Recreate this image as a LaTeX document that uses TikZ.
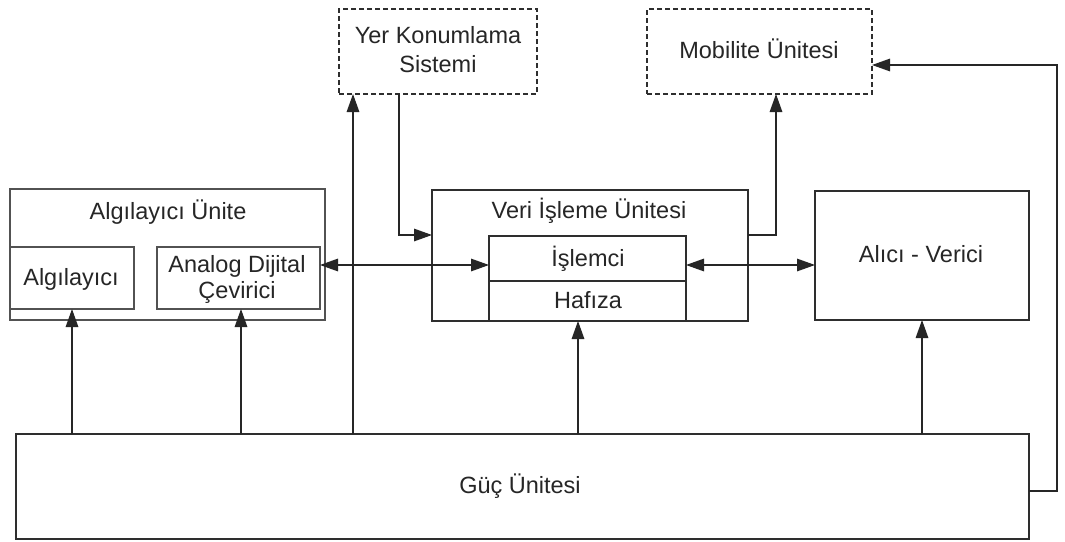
\documentclass[tikz,border=0pt]{standalone}
\usepackage{fontspec}
\setmainfont{Liberation Sans}
\usetikzlibrary{arrows.meta}
\begin{document}
\begin{tikzpicture}[x=1pt,y=-1pt,
  box/.style={draw=black!82, line width=1.5pt, fill=none, inner sep=0pt, outer sep=0pt, anchor=north west},
  gbox/.style={box, draw=black!68, line width=1.8pt},
  dbox/.style={box, dash pattern=on 5pt off 3pt, line width=1.4pt},
  lbl/.style={anchor=base, inner sep=0pt, font=\fontsize{23.5}{28}\selectfont, text=black!85, align=center},
  conn/.style={draw=black!85, line width=1.4pt},
  tip/.style={Triangle[length=18pt,width=12.5pt]},
  arr/.style={conn, -{Triangle[length=18pt,width=12.5pt]}},
  darr/.style={conn, {Triangle[length=18pt,width=12.5pt]}-{Triangle[length=18pt,width=12.5pt]}}]
\useasboundingbox (0,0) rectangle (1065,541);
\fill[white] (0,0) rectangle (1065,541);

% sensing unit with its two parts
\node[gbox, minimum width=315pt, minimum height=131pt] (algu) at (10,189) {};
\node[gbox, minimum width=124pt, minimum height=62pt] (alg) at (10,247) {};
\node[gbox, minimum width=163pt, minimum height=62pt] (adc) at (157,247) {};
\node[lbl] (algut) at (168,219) {Algılayıcı Ünite};
\node[lbl] (algt) at (71,285) {Algılayıcı};
\node[lbl, font=\fontsize{23.5}{26}\selectfont] (adct) at (237,298) {Analog Dijital\\Çevirici};

% optional units
\node[dbox, minimum width=198pt, minimum height=85pt] (yer) at (339,9) {};
\node[lbl, font=\fontsize{23.5}{29}\selectfont] (yert) at (438,72) {Yer Konumlama\\Sistemi};
\node[dbox, minimum width=225pt, minimum height=85pt] (mob) at (647,9) {};
\node[lbl] (mobt) at (759,58) {Mobilite Ünitesi};

% processing unit
\node[box, minimum width=316pt, minimum height=131pt] (veri) at (432,190) {};
\node[lbl] (verit) at (589,218) {Veri İşleme Ünitesi};
\node[box, minimum width=197pt, minimum height=45pt] (islem) at (489,236) {};
\node[box, minimum width=197pt, minimum height=40pt] (hafiza) at (489,281) {};
\node[lbl] (islemt) at (588,266) {İşlemci};
\node[lbl] (hafizat) at (588,308) {Hafıza};

% transceiver
\node[box, minimum width=214pt, minimum height=129pt] (alici) at (815,191) {};
\node[lbl] (alicit) at (921,262) {Alıcı - Verici};

% power unit
\node[box, minimum width=1013pt, minimum height=105pt] (guc) at (16,434) {};
\node[lbl] (guct) at (520,493) {Güç Ünitesi};

% connection points
\coordinate (hy) at (0,265);
\coordinate (adcup) at (241,309);
\coordinate (yerup) at (353,94);
\coordinate (yerdown) at (399,94);
\coordinate (veriin) at (432,235);
\coordinate (veriout) at (748,235);
\coordinate (mobup) at (776,94);
\coordinate (hafup) at (578,321);
\coordinate (gucout) at (1029,491);
\coordinate (ret) at (1057,491);
\coordinate (mobin) at (872,65);

% power supply lines
\draw[arr] (guc.north -| alg.south) -- (alg.south);
\draw[arr] (guc.north -| adcup) -- (adcup);
\draw[arr] (guc.north -| yerup) -- (yerup);
\draw[arr] (guc.north -| hafup) -- (hafup);
\draw[arr] (guc.north -| alici.south) -- (alici.south);
\draw[arr] (gucout) -- (ret) |- (mobin);

% data paths
\draw[arr] (yerdown) |- (veriin);
\draw[arr] (veriout) -| (mobup);
\draw[darr] (adc.east |- hy) -- (islem.west |- hy);
\draw[darr] (islem.east |- hy) -- (alici.west |- hy);
\end{tikzpicture}
\end{document}
